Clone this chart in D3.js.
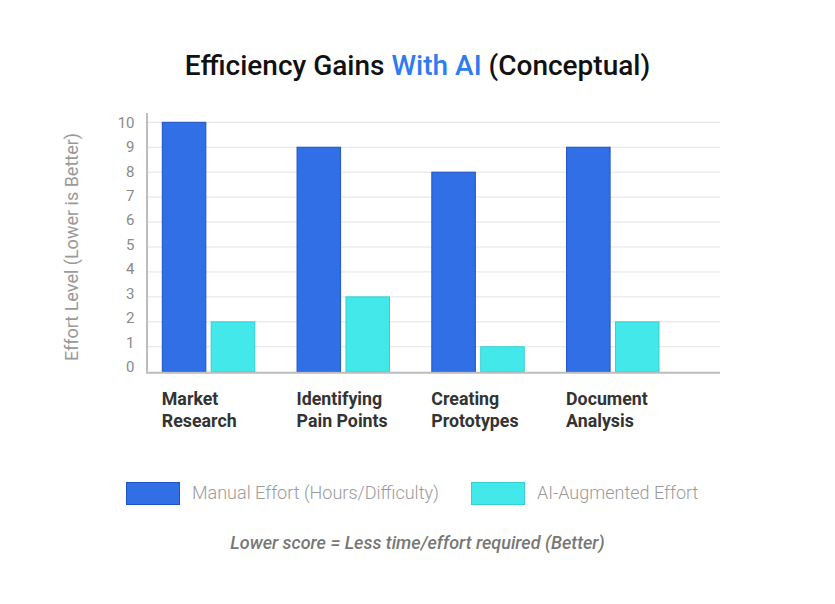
<!DOCTYPE html>
<html>
<head>
<meta charset="utf-8">
<script src="https://cdn.jsdelivr.net/npm/d3@7/dist/d3.min.js"></script>
<style>
  html, body { margin: 0; padding: 0; background: #fff; }
  svg { display: block; font-family: Roboto, "Noto Sans", sans-serif; }
</style>
</head>
<body>
<svg id="chart" width="835" height="604"></svg>
<script>
const categories = [["Market", "Research"], ["Identifying", "Pain Points"], ["Creating", "Prototypes"], ["Document", "Analysis"]];
const seriesNames = ["Manual Effort (Hours/Difficulty)", "AI-Augmented Effort"];
const manualEffort = [10, 9, 8, 9];
const aiEffort = [2, 3, 1, 2];
const yTicks = [0, 1, 2, 3, 4, 5, 6, 7, 8, 9, 10];

const colors = ["#316fe6", "#43e9ea"];
const strokes = ["#1f52c4", "#36d0d3"];

const svg = d3.select("#chart");
const W = 835;

const plotLeft = 147, plotRight = 720, plotTop = 122.3, plotBottom = 371.7;

const catKeys = categories.map(c => c.join(" "));
const x0 = d3.scaleBand().domain(catKeys).range([162.3, 659]).paddingInner(0.314).paddingOuter(0);
const x1 = d3.scaleBand().domain(seriesNames).range([0, x0.bandwidth()]).paddingInner(0.11).paddingOuter(0);
const y = d3.scaleLinear().domain([0, 10]).range([plotBottom, plotTop]);
// tick labels sit on a slightly compressed scale in the original
const yLab = d3.scaleLinear().domain([0, 10]).range([367, plotTop]);

// Title
const title = svg.append("text")
  .attr("x", W / 2).attr("y", 75)
  .attr("text-anchor", "middle")
  .style("font-size", "28px").style("font-weight", 500).style("fill", "#111");
title.append("tspan").text("Efficiency Gains ");
title.append("tspan").text("With AI").style("fill", "#2f7bf0");
title.append("tspan").text(" (Conceptual)");

// Gridlines
svg.append("g")
  .selectAll("line").data(yTicks.filter(d => d > 0)).join("line")
  .attr("x1", plotLeft).attr("x2", plotRight)
  .attr("y1", d => y(d)).attr("y2", d => y(d))
  .attr("stroke", "#e3e3e3").attr("stroke-width", 1);

// Y axis labels
const yAxis = d3.axisLeft(yLab).tickValues(yTicks).tickSize(0).tickPadding(12.5).tickFormat(d3.format("d"));
const gy = svg.append("g").attr("transform", `translate(${plotLeft},0)`).call(yAxis);
gy.select(".domain").remove();
gy.selectAll("text").style("font-size", "15px").style("fill", "#8a8a8a").style("font-family", "Roboto, sans-serif");

// Y axis line
svg.append("line")
  .attr("x1", plotLeft).attr("x2", plotLeft)
  .attr("y1", 113).attr("y2", plotBottom)
  .attr("stroke", "#bdbdbd").attr("stroke-width", 2);

// Y axis title
svg.append("text")
  .attr("transform", `translate(78,${(plotTop + plotBottom) / 2}) rotate(-90)`)
  .attr("text-anchor", "middle")
  .style("font-size", "18px").style("fill", "#9a9a9a").style("font-weight", 400)
  .text("Effort Level (Lower is Better)");

// Bars
const rows = catKeys.map((k, i) => ({ key: k, values: [manualEffort[i], aiEffort[i]] }));
const groups = svg.append("g").selectAll("g").data(rows).join("g")
  .attr("transform", d => `translate(${x0(d.key)},0)`);
groups.selectAll("rect").data(d => d.values.map((v, j) => ({ s: seriesNames[j], v, j }))).join("rect")
  .attr("x", d => x1(d.s))
  .attr("width", x1.bandwidth())
  .attr("y", d => y(d.v))
  .attr("height", d => y(0) - y(d.v))
  .attr("fill", d => colors[d.j])
  .attr("stroke", d => strokes[d.j])
  .attr("stroke-width", 1);

// Baseline
svg.append("line")
  .attr("x1", plotLeft - 1).attr("x2", plotRight)
  .attr("y1", plotBottom + 1).attr("y2", plotBottom + 1)
  .attr("stroke", "#bdbdbd").attr("stroke-width", 2);

// Category labels
const xl = svg.append("g").selectAll("text").data(categories).join("text")
  .attr("x", (d, i) => x0(catKeys[i]) - 0.5)
  .attr("y", 405)
  .style("font-size", "17.8px").style("font-weight", 700).style("fill", "#333");
xl.selectAll("tspan").data(d => d).join("tspan")
  .attr("x", function () { return d3.select(this.parentNode).attr("x"); })
  .attr("dy", (d, i) => i === 0 ? 0 : 21.7)
  .text(d => d);

// Legend
const legendX = [126, 471];
const leg = svg.append("g").selectAll("g").data(seriesNames).join("g")
  .attr("transform", (d, i) => `translate(${legendX[i]},482)`);
leg.append("rect").attr("x", 0.5).attr("y", 0.5).attr("width", 53).attr("height", 22)
  .attr("fill", (d, i) => colors[i]).attr("stroke", (d, i) => strokes[i]).attr("stroke-width", 1);
leg.append("text").attr("x", 66).attr("y", 17)
  .style("font-size", "18px").style("font-weight", 300).style("fill", "#9a9a9a")
  .text(d => d);

// Footnote
svg.append("text")
  .attr("x", W / 2).attr("y", 549)
  .attr("text-anchor", "middle")
  .style("font-size", "18px").style("font-style", "italic").style("font-weight", 500).style("fill", "#777")
  .text("Lower score = Less time/effort required (Better)");
</script>
</body>
</html>
